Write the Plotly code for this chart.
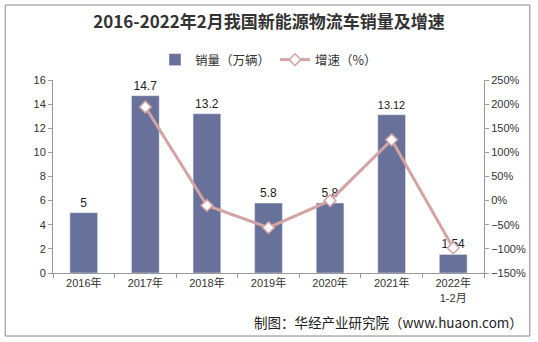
import plotly.graph_objects as go

categories = ["2016年", "2017年", "2018年", "2019年", "2020年", "2021年", "2022年<br>1-2月"]
sales = [5, 14.7, 13.2, 5.8, 5.8, 13.12, 1.54]
sales_labels = ["5", "14.7", "13.2", "5.8", "5.8", "13.12", "1.54"]
growth_cats = categories[1:]
growth = [194, -10, -56, 0, 126, -98]

W, H = 538, 342
L, R, T, B = 53, 486, 80, 273

fig = go.Figure()
fig.add_trace(go.Bar(
    x=categories, y=sales, name="销量（万辆）",
    marker_color="#67719A", width=0.45,
    text=sales_labels, textposition="outside",
    textfont=dict(size=12, color="#222"), cliponaxis=False,
))
fig.add_trace(go.Scatter(
    x=growth_cats, y=growth, name="增速（%）", yaxis="y2",
    mode="lines+markers",
    line=dict(color="#D4A3A3", width=3),
    marker=dict(symbol="diamond", size=9, color="white",
                line=dict(color="#D4A3A3", width=1.5)),
))

def px(xp):
    return (xp - L) / (R - L)

def py(yp):
    return (B - yp) / (B - T)

fig.update_layout(
    width=W, height=H,
    margin=dict(l=L, r=W - R, t=T, b=H - B),
    paper_bgcolor="white", plot_bgcolor="white",
    font=dict(family="Liberation Sans, Noto Sans CJK SC", size=11, color="#333"),
    title=dict(text="<b>2016-2022年2月我国新能源物流车销量及增速</b>",
               x=0.5, xanchor="center", y=1 - 22 / H, yanchor="middle",
               font=dict(family="Noto Sans CJK SC", size=17, color="#333")),
    showlegend=True,
    legend=dict(orientation="h", x=0.5, xanchor="center", y=py(60), yanchor="middle",
                font=dict(size=12.5, color="#333", family="Noto Sans CJK SC"),
                itemwidth=30, tracegroupgap=0),
    bargap=0.55,
    xaxis=dict(type="category", showline=True, linecolor="#999", linewidth=1,
               ticks="outside", tickson="boundaries", ticklen=4, tickcolor="#999",
               showgrid=False, tickfont=dict(size=11, color="#333")),
    yaxis=dict(range=[0, 16], dtick=2, showline=True, linecolor="#999",
               ticks="outside", ticklen=4, tickcolor="#999", showgrid=False,
               zeroline=False, tickfont=dict(size=11, color="#333")),
    yaxis2=dict(range=[-150, 250], dtick=50, overlaying="y", side="right",
                ticksuffix="%", showline=True, linecolor="#999",
                ticks="outside", ticklen=4, tickcolor="#999", showgrid=False,
                zeroline=False, tickfont=dict(size=11, color="#333")),
    shapes=[dict(type="rect", xref="paper", yref="paper",
                 x0=px(5), x1=px(532), y0=py(336), y1=py(5),
                 line=dict(color="#888", width=1), fillcolor="rgba(0,0,0,0)", layer="below")],
    annotations=[dict(text="制图：华经产业研究院（www.huaon.com）", xref="paper", yref="paper",
                      x=px(527), y=py(322), xanchor="right", yanchor="middle", showarrow=False,
                      font=dict(size=13.5, color="#222", family="Noto Sans CJK SC"))],
)

fig.write_html("out.html")
